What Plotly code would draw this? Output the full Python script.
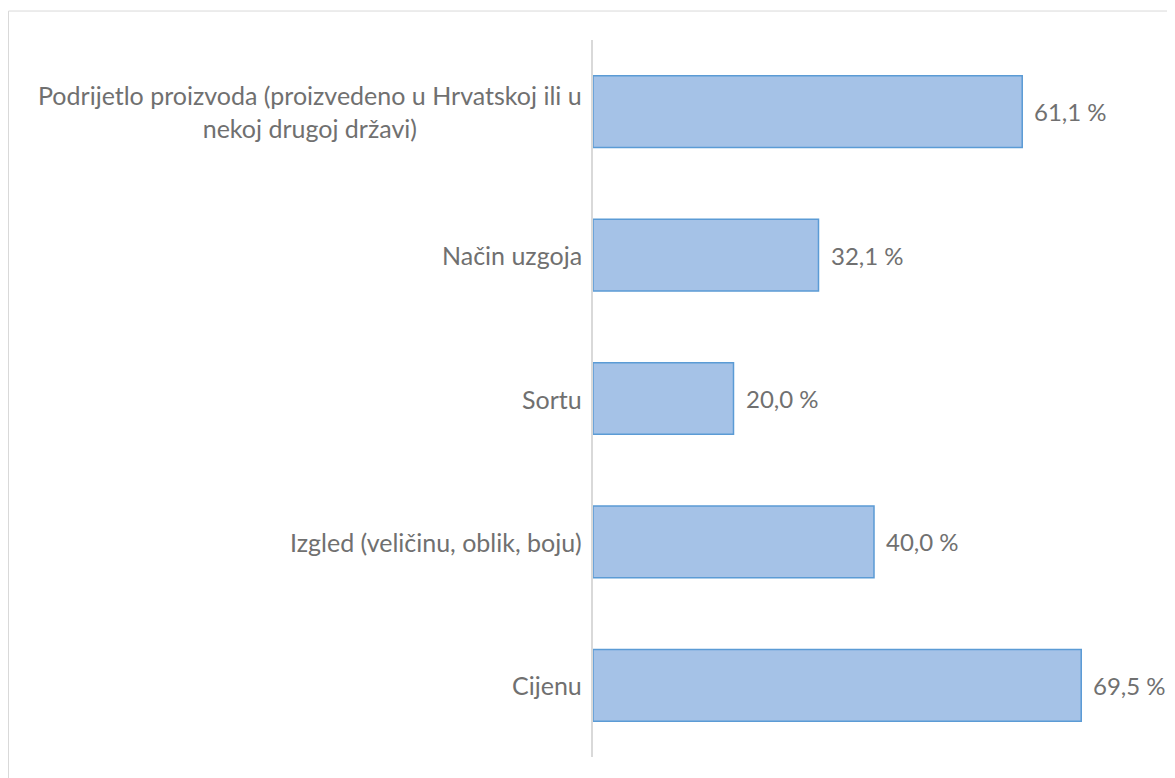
import plotly.graph_objects as go

categories = [
    "Podrijetlo proizvoda (proizvedeno u Hrvatskoj ili u<br>nekoj drugoj državi)",
    "Način uzgoja",
    "Sortu",
    "Izgled (veličinu, oblik, boju)",
    "Cijenu",
]
values = [61.1, 32.1, 20.0, 40.0, 69.5]
value_labels = ["61,1 %", "32,1 %", "20,0 %", "40,0 %", "69,5 %"]

FONT = "Lato"
TXT = "#707070"

fig = go.Figure()
fig.add_trace(go.Bar(
    y=categories,
    x=values,
    orientation="h",
    marker=dict(color="#a5c2e7", line=dict(color="#5b9bd5", width=1.5)),
    hoverinfo="skip",
))

annotations = []
for c, v, t in zip(categories, values, value_labels):
    annotations.append(dict(
        x=v, y=c, xref="x", yref="y", text=t, showarrow=False,
        xanchor="left", xshift=10, font=dict(family=FONT, size=24, color=TXT),
    ))
    annotations.append(dict(
        x=0, y=c, xref="paper", yref="y", text=c, showarrow=False,
        xanchor="right", xshift=-9, align="center",
        font=dict(family=FONT, size=25, color=TXT),
    ))

fig.update_layout(
    width=1175, height=778,
    margin=dict(l=585, r=28, t=32, b=29),
    paper_bgcolor="white", plot_bgcolor="white",
    showlegend=False,
    bargap=0.5,
    annotations=annotations,
    xaxis=dict(range=[0, 80], visible=False, fixedrange=True),
    yaxis=dict(
        autorange="reversed", showticklabels=False, showgrid=False,
        showline=True, linecolor="#d9d9d9", linewidth=2, ticks="",
        zeroline=False,
    ),
    shapes=[dict(
        type="rect", xref="paper", yref="paper",
        x0=-1.040, x1=1.1, y0=-0.1, y1=1.0404,
        line=dict(color="#d9d9d9", width=1), fillcolor="rgba(0,0,0,0)", layer="below",
    )],
)

fig.write_html("out.html")
